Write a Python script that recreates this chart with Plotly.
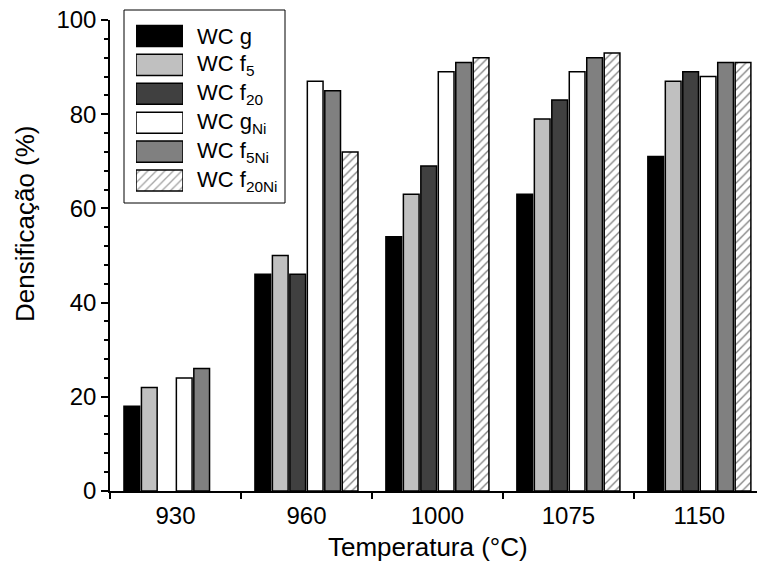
import plotly.graph_objects as go

# Sintering temperatures (°C) and densification (%) per powder
temperatures = ["930", "960", "1000", "1075", "1150"]
wc_g = [18, 46, 54, 63, 71]
wc_f5 = [22, 50, 63, 79, 87]
wc_f20 = [None, 46, 69, 83, 89]
wc_g_ni = [24, 87, 89, 89, 88]
wc_f5_ni = [26, 85, 91, 92, 91]
wc_f20_ni = [None, 72, 92, 93, 91]

series_names = ["WC g", "WC f<sub>5</sub>", "WC f<sub>20</sub>",
                "WC g<sub>Ni</sub>", "WC f<sub>5Ni</sub>", "WC f<sub>20Ni</sub>"]
series_values = [wc_g, wc_f5, wc_f20, wc_g_ni, wc_f5_ni, wc_f20_ni]
fill_colors = ["#000000", "#c0c0c0", "#404040", "#ffffff", "#808080", "#ffffff"]
patterns = ["", "", "", "", "", "/"]

FONT = "Liberation Sans, Arial, sans-serif"
W, H = 757, 570
L, R, T, B = 110, 0, 20, 79
PW, PH = W - L - R, H - T - B


def px_x(p):
    return (p - L) / PW


def px_y(p):
    return (H - B - p) / PH


xpos = list(range(len(temperatures)))
hatch = dict(fgcolor="black", bgcolor="white", size=6, solidity=0.22)

fig = go.Figure()
for name, vals, col, pat in zip(series_names, series_values, fill_colors, patterns):
    fig.add_trace(go.Bar(
        x=xpos, y=vals, name=name, showlegend=False,
        marker=dict(color=col, line=dict(color="black", width=1.5),
                    pattern=dict(shape=pat, **hatch)),
    ))

# legend keys: one horizontal bar per series in a small inset axis
rows = list(range(len(series_names)))
fig.add_trace(go.Bar(
    x=[1] * len(rows), y=rows, orientation="h", width=0.73,
    xaxis="x3", yaxis="y3", showlegend=False, hoverinfo="skip",
    marker=dict(color=fill_colors, line=dict(color="black", width=1.5),
                pattern=dict(shape=patterns, **hatch)),
))

row_top, row_pitch = 36, 28.9
annotations = []
for i, name in enumerate(series_names):
    annotations.append(dict(
        x=px_x(195), y=px_y(row_top + row_pitch * i), xref="paper", yref="paper",
        text=name, showarrow=False, xanchor="left", yanchor="middle",
        font=dict(family=FONT, size=22, color="black"),
    ))

annotations.append(dict(
    x=px_x(25), y=px_y(224), xref="paper", yref="paper",
    text="Densificação (%)", textangle=-90, showarrow=False,
    xanchor="center", yanchor="middle",
    font=dict(family=FONT, size=26, color="black"),
))
annotations.append(dict(
    x=px_x(428), y=px_y(547), xref="paper", yref="paper",
    text="Temperatura (°C)", showarrow=False,
    xanchor="center", yanchor="middle",
    font=dict(family=FONT, size=26, color="black"),
))

boundaries = [i - 0.5 for i in range(len(temperatures) + 1)]

fig.update_layout(
    width=W, height=H,
    margin=dict(l=L, r=R, t=T, b=B, pad=0),
    paper_bgcolor="white", plot_bgcolor="white",
    barmode="group", bargap=0.2, bargroupgap=0.1,
    font=dict(family=FONT, color="black"),
    annotations=annotations,
    shapes=[dict(type="rect", xref="paper", yref="paper",
                 x0=px_x(124), x1=px_x(285), y0=px_y(203), y1=px_y(10),
                 line=dict(color="black", width=1), fillcolor="rgba(0,0,0,0)",
                 layer="below")],
    xaxis=dict(
        type="linear", range=[-0.5, 4.44],
        tickmode="array", tickvals=xpos, ticktext=temperatures,
        ticks="", showgrid=False, zeroline=False,
        showline=True, linecolor="black", linewidth=1.5,
        ticklabelstandoff=2,
        tickfont=dict(family=FONT, size=24, color="black"),
        minor=dict(tickmode="array", tickvals=boundaries, ticks="outside",
                   ticklen=6, tickwidth=1.5, tickcolor="black", showgrid=False),
    ),
    xaxis2=dict(
        overlaying="x", matches="x", anchor="y", side="bottom",
        tickmode="array", tickvals=boundaries, ticks="inside",
        ticklen=3, tickwidth=1.5, tickcolor="black",
        showticklabels=False, showgrid=False, zeroline=False, showline=False,
    ),
    yaxis=dict(
        range=[0, 100], tickmode="linear", tick0=0, dtick=20,
        ticks="outside", ticklen=7, tickwidth=1.5, tickcolor="black",
        showgrid=False, zeroline=False,
        showline=True, linecolor="black", linewidth=1.5,
        tickfont=dict(family=FONT, size=24, color="black"),
        minor=dict(tickmode="linear", tick0=0, dtick=4, ticks="outside",
                   ticklen=4, tickwidth=1.5, tickcolor="black", showgrid=False),
    ),
    xaxis3=dict(domain=[px_x(136), px_x(183)], range=[0, 1], anchor="y3",
                visible=False, fixedrange=True),
    yaxis3=dict(domain=[px_y(row_top + row_pitch * 5 + row_pitch / 2),
                        px_y(row_top - row_pitch / 2)],
                range=[5.5, -0.5], anchor="x3", visible=False, fixedrange=True),
)

fig.write_html("out.html")
